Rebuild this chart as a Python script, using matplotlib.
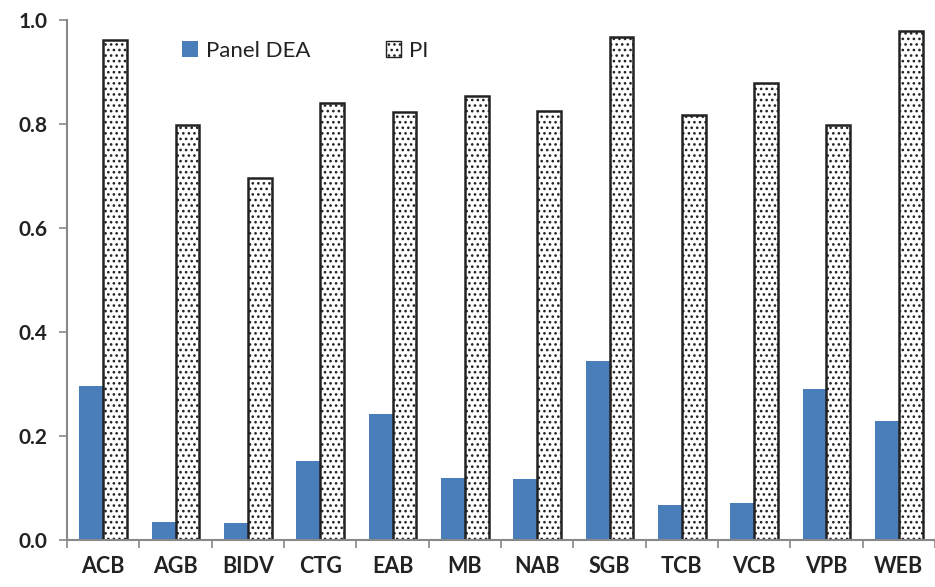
import numpy as np
import matplotlib
matplotlib.use('Agg')
import matplotlib.pyplot as plt

banks = ['ACB', 'AGB', 'BIDV', 'CTG', 'EAB', 'MB', 'NAB', 'SGB', 'TCB', 'VCB', 'VPB', 'WEB']
panel_dea = [0.296, 0.034, 0.031, 0.152, 0.241, 0.118, 0.116, 0.344, 0.066, 0.070, 0.290, 0.228]
pi = [0.961, 0.798, 0.696, 0.840, 0.822, 0.854, 0.825, 0.968, 0.818, 0.879, 0.798, 0.978]

plt.rcParams['font.family'] = ['Lato', 'DejaVu Sans']
plt.rcParams['hatch.linewidth'] = 1.1
plt.rcParams['hatch.color'] = '#666666'

fig = plt.figure(figsize=(9.35, 5.87), dpi=100)
ax = fig.add_axes([67/935, 1-539.5/587, 1-67/935, 519.5/587])

x = np.arange(len(banks))
w = 0.33
ax.bar(x - w/2, panel_dea, w, color='#4a7ebb', label='Panel DEA', zorder=2)
ax.bar(x + w/2, pi, w, facecolor='white', edgecolor='#222222', linewidth=1.8,
       hatch='...', label='PI', zorder=2)

ax.set_xlim(-0.5, len(banks) - 0.5)
ax.set_ylim(0, 1.0)
ax.set_yticks(np.arange(0, 1.01, 0.2))
ax.set_yticklabels(['%.1f' % v for v in np.arange(0, 1.01, 0.2)],
                   fontsize=15, fontweight='bold', color='#222222')

# category labels centred, tick marks between groups
ax.set_xticks(x)
ax.set_xticklabels(banks, fontsize=15.5, fontweight='bold', color='#222222')
ax.tick_params(axis='x', length=0, pad=12)
ax.set_xticks(np.arange(-0.5, len(banks), 1), minor=True)
ax.tick_params(axis='x', which='minor', length=6, color='#888888', width=1.2)
ax.tick_params(axis='y', length=6, color='#888888', width=1.2, pad=8)

for s in ['top', 'right']:
    ax.spines[s].set_visible(False)
for s in ['left', 'bottom']:
    ax.spines[s].set_color('#888888')
    ax.spines[s].set_linewidth(1.5)

leg = ax.legend(loc='upper left', bbox_to_anchor=(0.110, 0.998), ncol=2, frameon=False,
                fontsize=16, handlelength=0.7, handleheight=0.7, handletextpad=0.35,
                columnspacing=3.4)
for t in leg.get_texts():
    t.set_color('#222222')
for h in leg.legend_handles[1:]:
    h.set_linewidth(1.0)

fig.savefig('out.png', dpi=100)
